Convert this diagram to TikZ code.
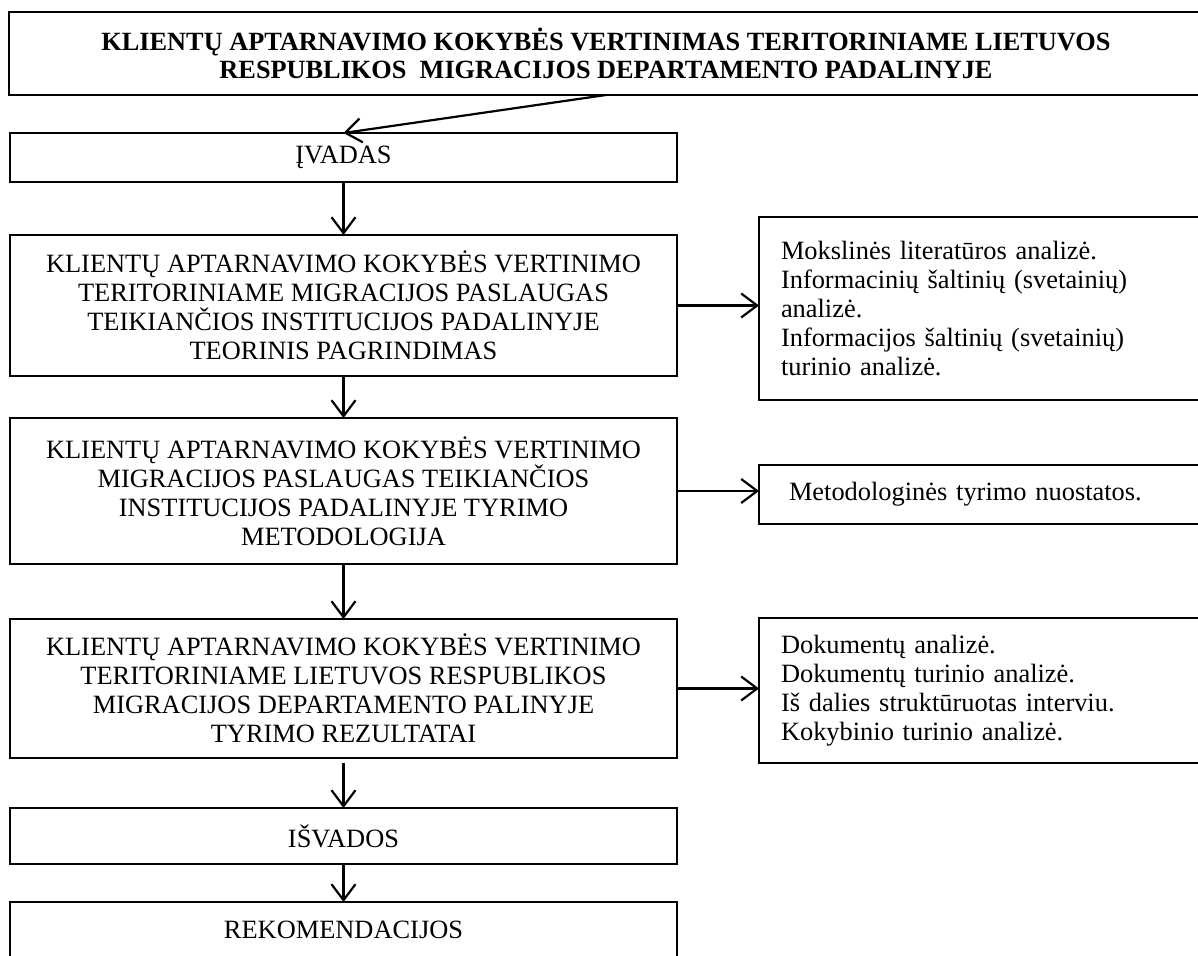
\documentclass[tikz,border=0pt]{standalone}
\usepackage{fontspec}
\setmainfont{Liberation Serif}
\usetikzlibrary{arrows.meta}
\newcommand\fsreg{\fontsize{26.4}{29}\selectfont}
\newcommand\fsbold{\fontsize{26.3}{27.5}\selectfont\bfseries}
\tikzset{
  box/.style={draw, line width=2.6pt, inner sep=0pt, outer sep=0pt, align=center, font=\fsreg},
  sidebox/.style={draw, line width=2.6pt, inner ysep=0pt, outer sep=0pt, align=left, font=\fsreg},
  arr/.style={line width=2.2pt, -{Straight Barb[length=16pt,width=24pt,line width=2.2pt]}},
}
\begin{document}
\begin{tikzpicture}[x=1pt,y=-1pt]
\useasboundingbox (0,0) rectangle (1198,955);
\fill[white] (0,0) rectangle (1198,955);
\clip (0,0) rectangle (1198,955);
% main column
\node[box, font=\fsbold, minimum width=1194, minimum height=83] (top) at (606,53.5)
  {KLIENTŲ APTARNAVIMO KOKYBĖS VERTINIMAS TERITORINIAME LIETUVOS\\RESPUBLIKOS\ \ MIGRACIJOS DEPARTAMENTO PADALINYJE};
\node[box, minimum width=667, minimum height=49] (intro) at (343.5,157.5) {ĮVADAS};
\node[box, minimum width=667, minimum height=141] (b2) at (343.5,305.5)
  {KLIENTŲ APTARNAVIMO KOKYBĖS VERTINIMO\\TERITORINIAME MIGRACIJOS PASLAUGAS\\TEIKIANČIOS INSTITUCIJOS PADALINYJE\\TEORINIS PAGRINDIMAS};
\node[box, minimum width=667, minimum height=146] (b3) at (343.5,491)
  {KLIENTŲ APTARNAVIMO KOKYBĖS VERTINIMO\\MIGRACIJOS PASLAUGAS TEIKIANČIOS\\INSTITUCIJOS PADALINYJE TYRIMO\\METODOLOGIJA};
\node[box, minimum width=667, minimum height=139] (b4) at (343.5,688.5)
  {KLIENTŲ APTARNAVIMO KOKYBĖS VERTINIMO\\TERITORINIAME LIETUVOS RESPUBLIKOS\\MIGRACIJOS DEPARTAMENTO PALINYJE\\TYRIMO REZULTATAI};
\node[box, minimum width=667, minimum height=56] (isv) at (343.5,836) {IŠVADOS};
\node[box, minimum width=667, minimum height=56] (rek) at (343.5,930) {REKOMENDACIJOS};
% side column
\node[sidebox, inner xsep=22pt, text width=400pt, minimum height=183] (r1) at (981,308.5)
  {Mokslinės literatūros analizė.\\Informacinių šaltinių (svetainių)\\analizė.\\Informacijos šaltinių (svetainių)\\turinio analizė.};
\node[sidebox, inner xsep=30pt, text width=384pt, minimum height=59] (r2) at (981,494.5)
  {Metodologinės tyrimo nuostatos.};
\node[sidebox, inner xsep=22pt, text width=400pt, minimum height=145] (r3) at (981,690.5)
  {Dokumentų analizė.\\Dokumentų turinio analizė.\\Iš dalies struktūruotas interviu.\\Kokybinio turinio analizė.};
% connectors
\draw[arr] (top.south) -- (intro.north);
\draw[arr] (intro.south) -- (b2.north);
\draw[arr] (b2.south) -- (b3.north);
\draw[arr] (b3.south) -- (b4.north);
\draw[arr, shorten <=5pt] (b4.south) -- (isv.north);
\draw[arr] (isv.south) -- (rek.north);
\draw[arr] (b2.east) -- (b2.east -| r1.west);
\draw[arr] (b3.east) -- (b3.east -| r2.west);
\draw[arr] (b4.east) -- (b4.east -| r3.west);
\end{tikzpicture}
\end{document}
